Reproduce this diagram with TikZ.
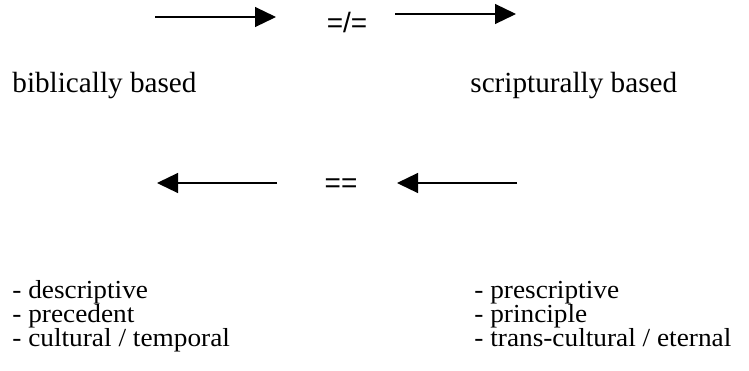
\documentclass[tikz,border=0pt]{standalone}
\usepackage{fontspec}
\setmainfont{Liberation Serif}
\newfontfamily\listfont{Liberation Serif}[FakeStretch=1.05]
\newfontfamily\eqfont{Liberation Sans}
\usetikzlibrary{arrows.meta}
\tikzset{
	head text/.style={anchor=base west, inner sep=0pt, font=\fontsize{14.6}{14.6}\selectfont},
	list text/.style={anchor=base west, inner sep=0pt, font=\listfont\fontsize{13}{13}\selectfont},
	eq text/.style={inner sep=0pt, font=\eqfont\fontsize{14}{14}\selectfont},
	pointer/.style={line width=0.6pt, -{Triangle[length=10.5pt,width=10pt]}}
}

\begin{document}
\begin{tikzpicture}[x=0.5pt,y=-0.5pt]
				\useasboundingbox (0, 0) rectangle (749, 370);
				
				% upper row
				\coordinate (ta1) at (155, 17);
				\coordinate (tb1) at (276, 17);
				\node[eq text] (neq) at (347, 22) {=/=};
				\coordinate (ta2) at (395, 14);
				\coordinate (tb2) at (516, 14);
				\draw[pointer] (ta1) -- (tb1);
				\draw[pointer] (ta2) -- (tb2);
				
				\node[head text] (bib) at (12, 92) {biblically based};
				\node[head text] (scr) at (470, 92) {scripturally based};
				
				% lower row
				\coordinate (ba1) at (277, 183);
				\coordinate (bb1) at (157, 183);
				\node[eq text] (eq) at (341, 186) {==};
				\coordinate (ba2) at (517, 183);
				\coordinate (bb2) at (397, 183);
				\draw[pointer] (ba1) -- (bb1);
				\draw[pointer] (ba2) -- (bb2);
				
				% lists
				\node[list text] (d1) at (12, 298) {- descriptive};
				\node[list text] (d2) at (12, 322) {- precedent};
				\node[list text] (d3) at (12, 346) {- cultural / temporal};
				
				\node[list text] (p1) at (474, 298) {- prescriptive};
				\node[list text] (p2) at (474, 322) {- principle};
				\node[list text] (p3) at (474, 346) {- trans-cultural / eternal};
			\end{tikzpicture}
\end{document}
